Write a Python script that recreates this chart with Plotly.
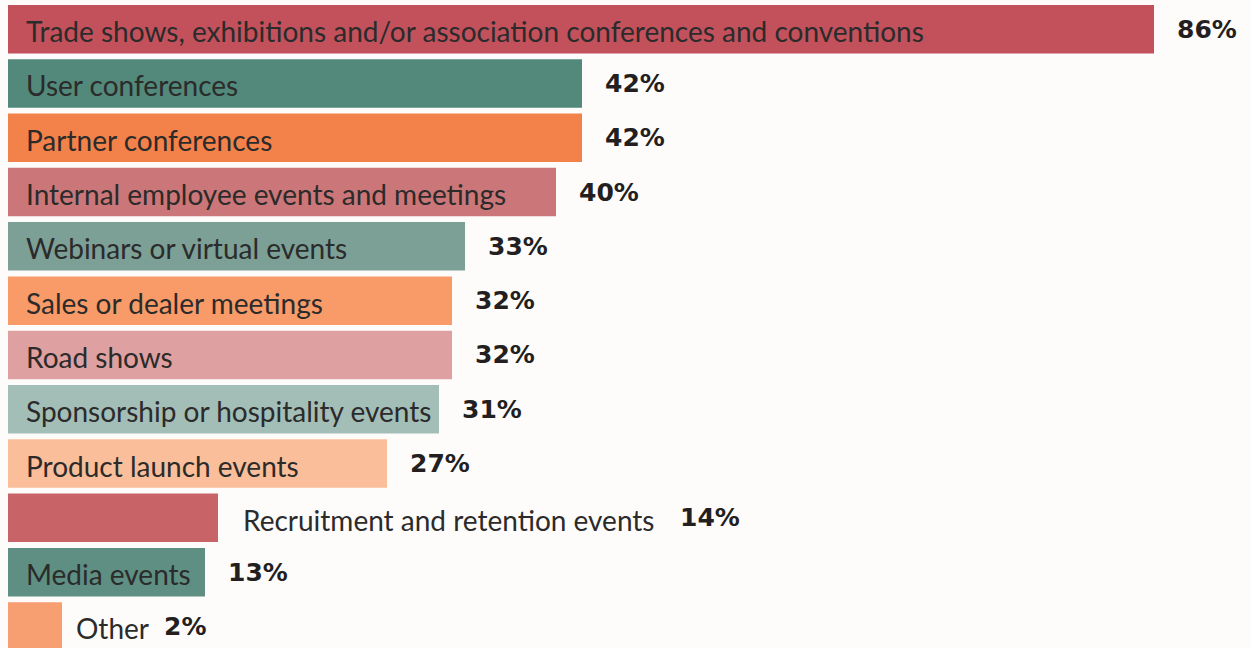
import plotly.graph_objects as go

# Share of respondents by event type (percent)
categories = [
    "Trade shows, exhibitions and/or association conferences and conventions",
    "User conferences",
    "Partner conferences",
    "Internal employee events and meetings",
    "Webinars or virtual events",
    "Sales or dealer meetings",
    "Road shows",
    "Sponsorship or hospitality events",
    "Product launch events",
    "Recruitment and retention events",
    "Media events",
    "Other",
]
values = [86, 42, 42, 40, 33, 32, 32, 31, 27, 14, 13, 2]
value_labels = ["86%", "42%", "42%", "40%", "33%", "32%", "32%", "31%", "27%", "14%", "13%", "2%"]

colors = [
    "#C2515C", "#52897A", "#F3814A", "#CB7678", "#7C9F96", "#F89B68",
    "#DEA0A0", "#A3BDB7", "#FABE9A", "#C86468", "#5E8F82", "#F89F72",
]

W, H = 1251, 648
left = 8
zero_px = 36          # pixel where value 0 sits; bars start at the plot's left edge
px_per_unit = 13.0
x_min = -(zero_px - left) / px_per_unit
x_max = x_min + (W - left) / px_per_unit
row_px = 54.3
top = 2
y_bottom = -0.5 + (H - top) / row_px

TEXT_FONT = dict(family="Lato", size=28, color="#2B2B2B")
PCT_FONT = dict(family="DejaVu Sans", size=25, color="#231F20", weight="bold")

fig = go.Figure(
    go.Bar(
        x=[v - x_min for v in values],
        base=x_min,
        y=list(range(len(categories))),
        orientation="h",
        marker=dict(color=colors, line=dict(width=0)),
        width=0.893,
        hoverinfo="skip",
    )
)

# labels that don't fit inside their bar sit just past the bar end
outside = {"Recruitment and retention events": (23, 460), "Other": (12, 100)}

annotations = []
for i, (cat, v, lab) in enumerate(zip(categories, values, value_labels)):
    if cat in outside:
        tshift, pshift = outside[cat]
        annotations.append(dict(x=v, y=i, xref="x", yref="y", text=cat, showarrow=False,
                                xanchor="left", xshift=tshift, yshift=-2, font=TEXT_FONT))
        annotations.append(dict(x=v, y=i, xref="x", yref="y", text=lab, showarrow=False,
                                xanchor="left", xshift=pshift, yshift=0, font=PCT_FONT))
    else:
        annotations.append(dict(x=x_min, y=i, xref="x", yref="y", text=cat, showarrow=False,
                                xanchor="left", xshift=16, yshift=-2, font=TEXT_FONT))
        annotations.append(dict(x=v, y=i, xref="x", yref="y", text=lab, showarrow=False,
                                xanchor="left", xshift=21, yshift=0, font=PCT_FONT))

fig.update_layout(
    width=W,
    height=H,
    margin=dict(l=left, r=0, t=top, b=0),
    paper_bgcolor="#FEFCFB",
    plot_bgcolor="#FEFCFB",
    showlegend=False,
    annotations=annotations,
    xaxis=dict(range=[x_min, x_max], visible=False, fixedrange=True),
    yaxis=dict(range=[y_bottom, -0.5], visible=False, fixedrange=True),
)

fig.write_html("out.html")
